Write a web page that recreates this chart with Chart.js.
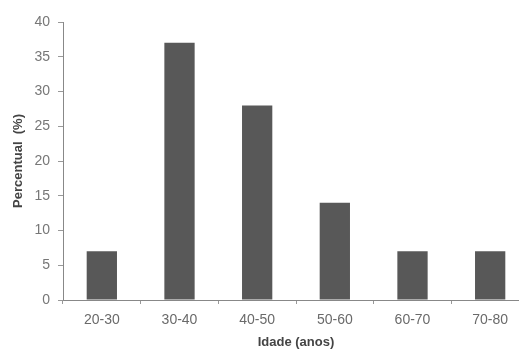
<!DOCTYPE html>
<html><head><meta charset="utf-8">
<script src="https://cdn.jsdelivr.net/npm/chart.js@4"></script>
<style>html,body{margin:0;padding:0;overflow:hidden;background:#fff}#wrap{width:530px;height:356px;position:relative}</style>
</head><body>
<div id="wrap"><canvas id="c" width="530" height="356"></canvas></div>
<script>
const categories = ["20-30","30-40","40-50","50-60","60-70","70-80"];
const percentual = [7, 37, 28, 14, 7, 7];
const yTicks = [0,5,10,15,20,25,30,35,40];
const xTitle = "Idade (anos)";
const yTitle = "Percentual  (%)";

new Chart(document.getElementById('c'), {
  type: 'bar',
  data: { labels: categories, datasets: [{ data: percentual, backgroundColor: '#585858', borderWidth: 0, barPercentage: 0.78, categoryPercentage: 0.5 }] },
  options: {
    responsive: false, animation: false,
    layout: { padding: { left: 0, right: 1, top: 22, bottom: 0 } },
    plugins: { legend: { display: false }, tooltip: { enabled: false } },
    scales: {
      x: {
        grid: { drawOnChartArea: false, drawTicks: true, tickLength: 4, color: '#999', offset: true },
        border: { display: true, color: '#888' },
        ticks: { color: '#6a6a6a', font: { family: 'Liberation Sans', size: 14 }, padding: 8, maxRotation: 0 },
        title: { display: true, text: xTitle, color: '#444', font: { family: 'Liberation Sans', size: 13, weight: 'bold' }, padding: { top: 2, bottom: 6 } },
        afterFit: s => { s.height = 56; }
      },
      y: {
        min: 0, max: 40,
        afterBuildTicks: s => { s.ticks = yTicks.map(v => ({ value: v })); },
        grid: { drawOnChartArea: false, drawTicks: true, tickLength: 5, color: '#999' },
        border: { display: true, color: '#888' },
        ticks: { color: '#777', font: { family: 'Liberation Sans', size: 14 }, padding: 8 },
        title: { display: true, text: yTitle, color: '#444', font: { family: 'Liberation Sans', size: 13, weight: 'bold' }, padding: { top: 11, bottom: 6 } },
        afterFit: s => { s.width = 63; }
      }
    }
  }
});
</script>
</body></html>
